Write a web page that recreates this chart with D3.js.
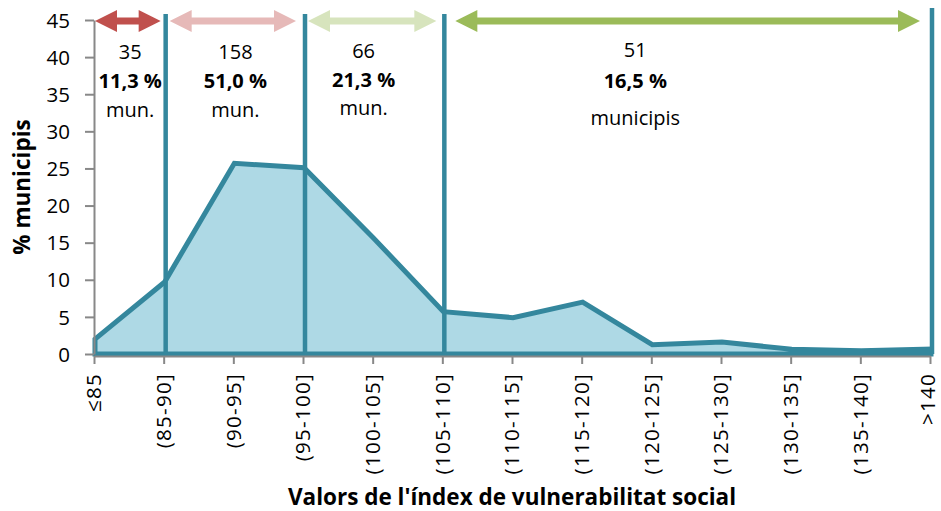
<!DOCTYPE html>
<html>
<head>
<meta charset="utf-8">
<script src="https://cdn.jsdelivr.net/npm/d3@7"></script>
<style>
	body { margin: 0; background: #fff; }
	text { font-family: "Open Sans", "DejaVu Sans", sans-serif; fill: #000; }
	.tick text { font-size: 20.5px; }
	.bold { font-weight: bold; }
</style>
</head>
<body>
<div id="chart"></div>
<script>
// categories of the index and share of municipalities (%)
var categories = ["\u226485", "(85-90]", "(90-95]", "(95-100]", "(100-105]", "(105-110]",
	"(110-115]", "(115-120]", "(120-125]", "(125-130]", "(130-135]", "(135-140]", ">140"];
var percents = [2.0, 9.7, 25.7, 25.1, 15.6, 5.7, 4.9, 7.0, 1.25, 1.6, 0.65, 0.45, 0.65];

var yTicks = [0, 5, 10, 15, 20, 25, 30, 35, 40, 45];

// groups of municipalities: from / to category, counts and shares
var groupFrom = ["\u226485", "(85-90]", "(95-100]", "(105-110]"];
var groupTo = ["(85-90]", "(95-100]", "(105-110]", ">140"];
var groupCount = ["35", "158", "66", "51"];
var groupShare = ["11,3 %", "51,0 %", "21,3 %", "16,5 %"];
var groupUnit = ["mun.", "mun.", "mun.", "municipis"];
var groupColor = ["#C0504D", "#E6B9B8", "#D7E4BD", "#9BBB59"];

var xTitle = "Valors de l'índex de vulnerabilitat social";
var yTitle = "% municipis";

var width = 941, height = 511;
var teal = "#34879D";

var svg = d3.select("#chart").append("svg")
	.attr("width", width)
	.attr("height", height);

var x = d3.scalePoint()
	.domain(categories)
	.range([94, 930]);

var y = d3.scaleLinear()
	.domain([0, 45])
	.range([354, 20]);

// area under the curve
var area = d3.area()
	.x(function (d, i) { return x(categories[i]) + 1; })
	.y0(y(0))
	.y1(function (d) { return y(d); });

svg.append("path")
	.datum(percents)
	.attr("d", area)
	.attr("fill", "#AED9E5")
	.attr("stroke", teal)
	.attr("stroke-width", 5);

// y axis
var yAxis = svg.append("g")
	.attr("transform", "translate(94,0)")
	.call(d3.axisLeft(y).tickValues(yTicks).tickSize(9).tickPadding(15).tickSizeOuter(0));
yAxis.select(".domain").attr("stroke", "#888").attr("stroke-width", 2);
yAxis.selectAll(".tick line").attr("stroke", "#888").attr("stroke-width", 2);
yAxis.selectAll(".tick text").attr("dy", "0.35em").attr("fill", "#000");

// x axis
var xAxis = svg.append("g")
	.attr("transform", "translate(0,356)")
	.call(d3.axisBottom(x).tickSize(8).tickSizeOuter(0));
xAxis.select(".domain").attr("stroke", "#888").attr("stroke-width", 2);
xAxis.selectAll(".tick line").attr("stroke", "#888").attr("stroke-width", 2);
xAxis.selectAll(".tick text")
	.attr("fill", "#000")
	.attr("text-anchor", "end")
	.attr("transform", "rotate(-90)")
	.attr("x", -17)
	.attr("y", 0)
	.attr("dy", function (d, i) { return i == categories.length - 1 ? "0.24em" : "0.33em"; })
	.style("letter-spacing", "1.3px");

// vertical dividers between groups
svg.selectAll("line.divider")
	.data(groupTo).enter().append("line")
	.attr("class", "divider")
	.attr("x1", function (d) { return x(d) + 2; })
	.attr("x2", function (d) { return x(d) + 2; })
	.attr("y1", function (d, i) { return i == groupTo.length - 1 ? 8 : 14; })
	.attr("y2", y(0))
	.attr("stroke", teal)
	.attr("stroke-width", 4.5);

// double arrows
var padStart = [1, 6, 5, 13];
var padEnd = [3, 7, 6, 10];
var arrowY = 21, shaft = 3.5, headLen = 22, headHalf = 11;

function arrowPath(x0, x1) {
	var p = d3.path();
	p.moveTo(x0, arrowY);
	p.lineTo(x0 + headLen, arrowY - headHalf);
	p.lineTo(x0 + headLen, arrowY - shaft);
	p.lineTo(x1 - headLen, arrowY - shaft);
	p.lineTo(x1 - headLen, arrowY - headHalf);
	p.lineTo(x1, arrowY);
	p.lineTo(x1 - headLen, arrowY + headHalf);
	p.lineTo(x1 - headLen, arrowY + shaft);
	p.lineTo(x0 + headLen, arrowY + shaft);
	p.lineTo(x0 + headLen, arrowY + headHalf);
	p.closePath();
	return p.toString();
}

svg.selectAll("path.arrow")
	.data(groupFrom).enter().append("path")
	.attr("class", "arrow")
	.attr("d", function (d, i) {
		return arrowPath(x(d) + padStart[i], x(groupTo[i]) - padEnd[i]);
	})
	.attr("fill", function (d, i) { return groupColor[i]; });

// group labels
var labelPos = [0.52, 2.03, 3.87, 7.77]; // in category steps
var labelRows = [[52, 81, 110], [52, 81, 110], [51, 80, 108], [50, 81, 118]];
var xStep = x.step();

groupCount.forEach(function (c, i) {
	var cx = x.range()[0] + labelPos[i] * xStep;
	var lines = [c, groupShare[i], groupUnit[i]];
	lines.forEach(function (t, j) {
		svg.append("text")
			.attr("class", j == 1 ? "bold" : null)
			.attr("x", cx)
			.attr("y", labelRows[i][j])
			.attr("dy", "0.36em")
			.attr("text-anchor", "middle")
			.style("font-size", "20px")
			.text(t);
	});
});

// axis titles
svg.append("text")
	.attr("class", "bold")
	.attr("x", 512)
	.attr("y", 505)
	.attr("text-anchor", "middle")
	.style("font-size", "22.5px")
	.text(xTitle);

svg.append("text")
	.attr("class", "bold")
	.attr("transform", "translate(30,187) rotate(-90)")
	.attr("text-anchor", "middle")
	.style("font-size", "22.5px")
	.text(yTitle);
</script>
</body>
</html>
